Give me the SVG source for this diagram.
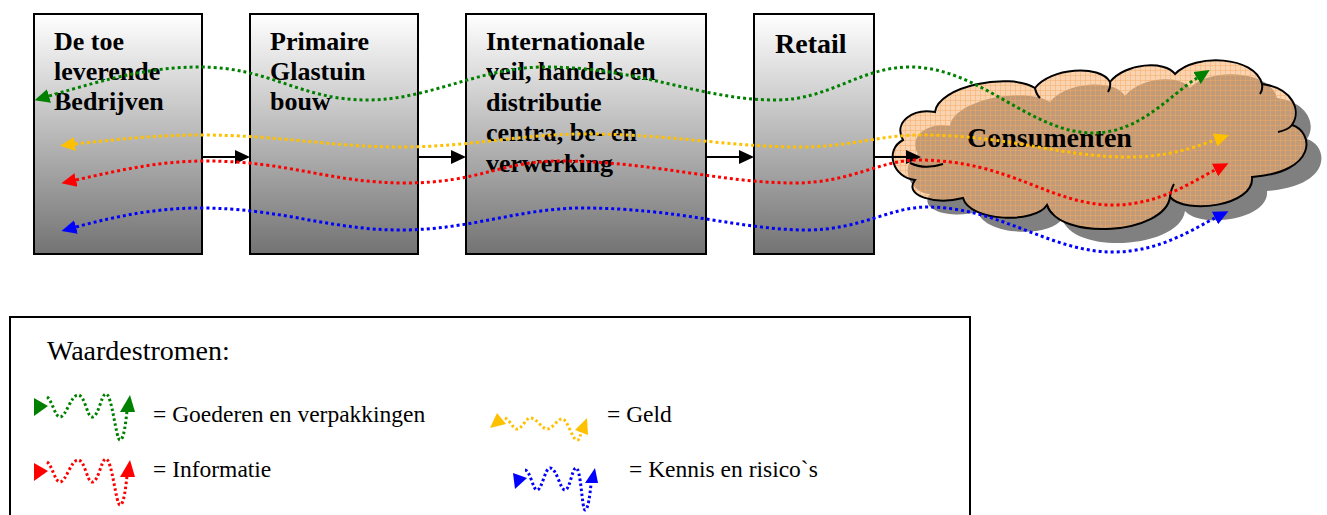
<svg xmlns="http://www.w3.org/2000/svg" width="1327" height="515" viewBox="0 0 1327 515">
  <defs>
    <linearGradient id="boxGrad" x1="0" y1="0" x2="0" y2="1">
      <stop offset="0" stop-color="#ffffff"/>
      <stop offset="1" stop-color="#737373"/>
    </linearGradient>
    <pattern id="cloudGrid" width="5" height="5" patternUnits="userSpaceOnUse">
      <rect width="5" height="5" fill="#f5af6e" fill-opacity="0.55"/>
      <path d="M0,0.5 H5 M0.5,0 V5" stroke="#f4a862" stroke-opacity="0.45" stroke-width="1"/>
    </pattern>
    <marker id="headBlack" viewBox="0 -8 16 16" refX="0" refY="0" markerWidth="16" markerHeight="16" markerUnits="userSpaceOnUse" orient="auto">
      <path d="M0,-7 L15,0 L0,7 Z" fill="#000"/>
    </marker>
    <marker id="headGreen" viewBox="0 -8 16 16" refX="0" refY="0" markerWidth="16" markerHeight="16" markerUnits="userSpaceOnUse" orient="auto-start-reverse">
      <path d="M0,-7 L15,0 L0,7 Z" fill="#008000"/>
    </marker>
    <marker id="headYellow" viewBox="0 -8 16 16" refX="0" refY="0" markerWidth="16" markerHeight="16" markerUnits="userSpaceOnUse" orient="auto-start-reverse">
      <path d="M0,-7 L15,0 L0,7 Z" fill="#ffc000"/>
    </marker>
    <marker id="headRed" viewBox="0 -8 16 16" refX="0" refY="0" markerWidth="16" markerHeight="16" markerUnits="userSpaceOnUse" orient="auto-start-reverse">
      <path d="M0,-7 L15,0 L0,7 Z" fill="#ff0000"/>
    </marker>
    <marker id="headBlue" viewBox="0 -8 16 16" refX="0" refY="0" markerWidth="16" markerHeight="16" markerUnits="userSpaceOnUse" orient="auto-start-reverse">
      <path d="M0,-7 L15,0 L0,7 Z" fill="#0000ff"/>
    </marker>
    <!-- cloud outline, reused for the drop shadow -->
    <path id="cloudShape" d="M915,180 C893,178 884,150 903,140 C893,122 913,108 935,112 C938,86 1010,72 1035,88 C1050,68 1100,64 1110,82 C1125,63 1165,60 1175,74 C1195,53 1255,56 1262,84 C1292,88 1302,110 1292,125 C1314,132 1318,172 1252,177 C1255,206 1185,215 1170,197 C1165,234 1060,242 1047,205 C1035,224 970,222 963,198 C935,205 903,196 915,180 Z"/>
  </defs>
  <style>
    .box { fill: url(#boxGrad); stroke: #000; stroke-width: 2; }
    .label { font-family: "Liberation Serif", "Times New Roman", serif; font-weight: bold; font-size: 26px; fill: #000; }
    .big { font-size: 28px; }
    .legend-text { font-family: "Liberation Serif", "Times New Roman", serif; font-size: 23.5px; fill: #000; }
    .legend-title { font-size: 28px; }
    .flow { fill: none; stroke-width: 3; stroke-dasharray: 3 3; }
    .key { stroke-dasharray: 2.5 2.5; }
    .green { stroke: #008000; }
    .yellow { stroke: #ffc000; }
    .red { stroke: #ff0000; }
    .blue { stroke: #0000ff; }
    .link { fill: none; stroke: #000; stroke-width: 2; marker-end: url(#headBlack); }
  </style>

  <g id="node-toeleveranciers">
    <rect class="box" x="34" y="14" width="168" height="240"/>
    <text class="label" x="54" y="50">De toe</text>
    <text class="label" x="54" y="80">leverende</text>
    <text class="label" x="54" y="110">Bedrijven</text>
  </g>

  <g id="node-glastuinbouw">
    <rect class="box" x="250" y="14" width="168" height="240"/>
    <text class="label" x="270" y="50">Primaire</text>
    <text class="label" x="270" y="80">Glastuin</text>
    <text class="label" x="270" y="110">bouw</text>
  </g>

  <g id="node-veilingen">
    <rect class="box" x="466" y="14" width="240" height="240"/>
    <text class="label" x="486" y="50">Internationale</text>
    <text class="label" x="486" y="80">veil, handels en</text>
    <text class="label" x="486" y="110.5">distributie</text>
    <text class="label" x="486" y="141">centra, be- en</text>
    <text class="label" x="486" y="171.5">verwerking</text>
  </g>

  <g id="node-retail">
    <rect class="box" x="754" y="14" width="120" height="240"/>
    <text class="label big" x="775" y="53">Retail</text>
  </g>

  <g id="node-consumenten">
    <use href="#cloudShape" transform="translate(15,14)" fill="#808080"/>
    <use href="#cloudShape" fill="url(#cloudGrid)" stroke="#000" stroke-width="2"/>
    <path d="M910,163 Q925,170 943,164 M1278,132 Q1288,130 1292,125 M1170,197 Q1171,189 1174,184 M1047,205 Q1049,211 1053,214 M1035,88 Q1036,94 1040,98 M1110,82 Q1111,87 1108,92 M1262,84 Q1263,90 1260,94" fill="none" stroke="#000" stroke-width="2"/>
    <text class="label big" x="967" y="147">Consumenten</text>
  </g>

  <g id="connectors">
    <path class="link" d="M202,157 H235"/>
    <path class="link" d="M418,157 H451"/>
    <path class="link" d="M706,157 H739"/>
    <path class="link" d="M874,157 H906"/>

    <path class="flow green" marker-start="url(#headGreen)" marker-end="url(#headGreen)"
          d="M49,96 C110,78 150,67 200,67 C270,67 300,100 367,100 C430,100 480,67 545,67 C640,67 700,100 775,100 C830,100 860,67 910,67 C980,67 1030,133 1093,133 C1140,133 1170,95 1197,78"/>
    <path class="flow yellow" marker-start="url(#headYellow)" marker-end="url(#headYellow)"
          d="M75,144 C120,139 160,135 200,135 C280,135 330,147 400,147 C470,147 520,134 585,134 C670,134 730,147 800,147 C850,147 880,135 920,135 C1010,135 1060,157 1127,157 C1170,157 1195,147 1215,140"/>
    <path class="flow red" marker-start="url(#headRed)" marker-end="url(#headRed)"
          d="M76,180 C120,170 160,161 205,161 C290,161 330,183 405,183 C480,183 500,161 560,161 C650,161 720,183 795,183 C850,183 880,160 918,160 C1010,160 1050,205 1113,205 C1160,205 1195,180 1215,170"/>
    <path class="flow blue" marker-start="url(#headBlue)" marker-end="url(#headBlue)"
          d="M76,227 C120,215 160,208 200,208 C280,208 330,230 400,230 C470,230 520,208 583,208 C680,208 740,230 807,230 C860,230 890,207 927,207 C1000,207 1050,252 1113,252 C1160,252 1195,228 1215,218"/>
  </g>

  <g id="legend">
    <rect x="10" y="317" width="960" height="215" fill="#fff" stroke="#000" stroke-width="2"/>
    <text class="legend-text legend-title" x="47" y="360">Waardestromen:</text>

    <g id="legend-goederen">
      <path class="flow key green" d="M47,397 C52,400 55,417 60,417 C66,417 71,395 78,395 C85,395 87,417 92,417 C99,417 101,394 106,394 C112,394 116,440 120,440 C124,440 126,420 127,411"/>
      <polygon points="34,398 34,416 48,406" fill="#008000"/>
      <polygon points="120,412 135,412 130,395" fill="#008000"/>
      <text class="legend-text" x="153" y="421.5">= Goederen en verpakkingen</text>
    </g>

    <g id="legend-informatie">
      <path class="flow key red" d="M47,462 C52,465 55,482 60,482 C66,482 71,460 78,460 C85,460 87,482 92,482 C99,482 101,459 106,459 C112,459 116,505 120,505 C124,505 126,485 127,476"/>
      <polygon points="34,463 34,481 48,471" fill="#ff0000"/>
      <polygon points="120,477 135,477 130,460" fill="#ff0000"/>
      <text class="legend-text" x="153" y="476.5">= Informatie</text>
    </g>

    <g id="legend-geld">
      <path class="flow key yellow" d="M505,418 C510,420 513,429 517,429 C522,429 526,418 530,418 C537,418 542,429 547,429 C553,429 557,419 562,419 C568,419 572,440 577,440 C580,440 581,436 580,431"/>
      <polygon points="490,428 497,413 506,424" fill="#ffc000"/>
      <polygon points="575,430 587,418 588,435" fill="#ffc000"/>
      <text class="legend-text" x="607" y="421.5">= Geld</text>
    </g>

    <g id="legend-kennis">
      <path class="flow key blue" d="M525,470 C530,470 533,490 537,490 C542,490 545,468 550,468 C557,468 560,490 565,490 C570,490 572,468 576,468 C581,468 582,510 585,510 C588,510 590,495 591,484"/>
      <polygon points="513,473 515,489 527,478" fill="#0000ff"/>
      <polygon points="585,483 598,483 595,468" fill="#0000ff"/>
      <text class="legend-text" x="629" y="476.5">= Kennis en risico`s</text>
    </g>
  </g>
</svg>
